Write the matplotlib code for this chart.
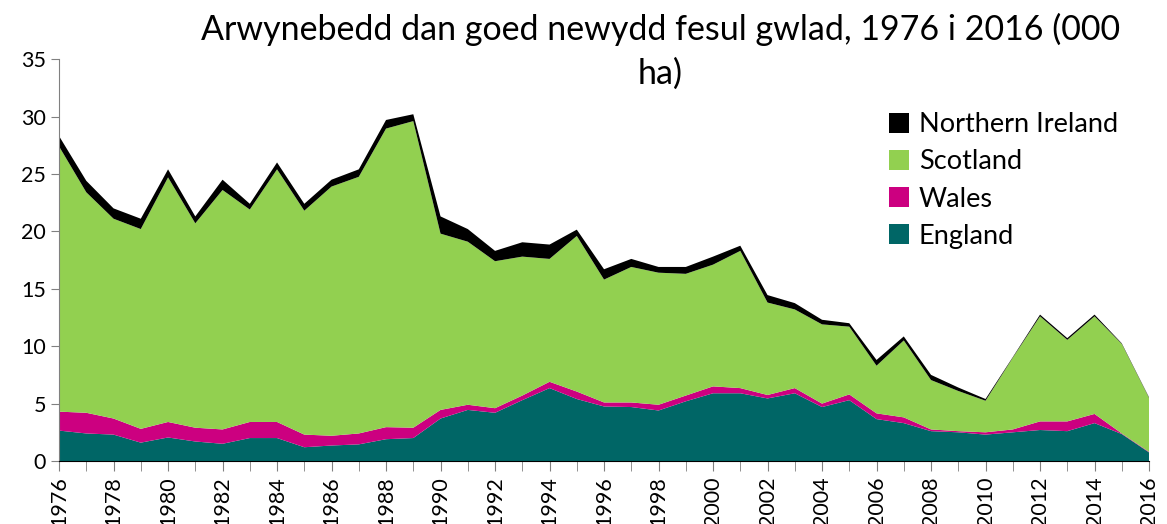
import matplotlib.pyplot as plt
import numpy as np

plt.rcParams['font.family'] = ['Lato', 'DejaVu Sans']

years = list(range(1976, 2017))
england = [2.65, 2.4, 2.3, 1.6, 2.05, 1.7, 1.5, 2.0, 2.0, 1.2, 1.35, 1.45, 1.9, 2.0,
           3.7, 4.45, 4.2, 5.3, 6.35, 5.4, 4.75, 4.7, 4.4, 5.2, 5.9, 5.9, 5.45, 5.9,
           4.7, 5.3, 3.65, 3.3, 2.6, 2.5, 2.3, 2.5, 2.7, 2.6, 3.3, 2.35, 0.75]
wales = [1.65, 1.8, 1.4, 1.2, 1.35, 1.2, 1.25, 1.4, 1.4, 1.1, 0.85, 0.95, 1.05, 0.9,
         0.75, 0.45, 0.4, 0.4, 0.55, 0.65, 0.35, 0.4, 0.5, 0.5, 0.6, 0.45, 0.3, 0.45,
         0.3, 0.5, 0.5, 0.5, 0.15, 0.1, 0.2, 0.25, 0.75, 0.85, 0.8, 0.05, 0.05]
scotland = [23.1, 19.2, 17.4, 17.4, 21.3, 17.8, 20.85, 18.5, 22.0, 19.5, 21.7, 22.35, 26.0, 26.7,
            15.35, 14.2, 12.8, 12.1, 10.7, 13.55, 10.7, 11.8, 11.5, 10.6, 10.6, 11.95, 8.05, 6.85,
            6.9, 5.9, 4.15, 6.7, 4.3, 3.5, 2.75, 6.25, 9.15, 7.1, 8.5, 7.8, 4.7]
n_ireland = [0.9, 1.0, 0.9, 0.9, 0.7, 0.6, 0.9, 0.5, 0.6, 0.6, 0.6, 0.65, 0.75, 0.6,
             1.5, 1.1, 0.9, 1.25, 1.25, 0.55, 0.9, 0.7, 0.5, 0.6, 0.7, 0.45, 0.65, 0.55,
             0.4, 0.3, 0.5, 0.35, 0.45, 0.3, 0.15, 0.05, 0.15, 0.15, 0.15, 0.05, 0.05]

labels = ["England", "Wales", "Scotland", "Northern Ireland"]
colors = ["#006666", "#CC0080", "#92D050", "#000000"]

fig = plt.figure(figsize=(11.67, 5.24), dpi=100)
ax = fig.add_axes([0.0506, 0.1202, 0.934, 0.767])
polys = ax.stackplot(years, england, wales, scotland, n_ireland, colors=colors, labels=labels)

ax.set_xlim(1976, 2016)
ax.set_ylim(0, 35)
ax.set_yticks(range(0, 36, 5))
ax.set_xticks(range(1976, 2017, 2))
ax.set_xticks(range(1976, 2017), minor=True)
ax.tick_params(axis='x', which='both', direction='out', length=7, color='#808080')
ax.tick_params(axis='x', labelrotation=90, labelsize=15.5, pad=4)
ax.tick_params(axis='y', direction='out', length=6, color='#808080', labelsize=15.5)
for s in ['top', 'right']:
    ax.spines[s].set_visible(False)
ax.spines['left'].set_color('#808080')
ax.spines['bottom'].set_color('#000000')

handles, labs = ax.get_legend_handles_labels()
leg = ax.legend(handles[::-1], labs[::-1], loc='upper right', bbox_to_anchor=(0.989, 0.915),
                frameon=False, fontsize=19.5, handlelength=0.75, handleheight=0.75,
                handletextpad=0.35, labelspacing=0.45, borderpad=0.2)

fig.text(0.566, 1 - 13 / 524, "Arwynebedd dan goed newydd fesul gwlad, 1976 i 2016 (000\nha)",
         ha='center', va='top', fontsize=24.5, linespacing=1.45)

fig.savefig("out.png", dpi=100)
